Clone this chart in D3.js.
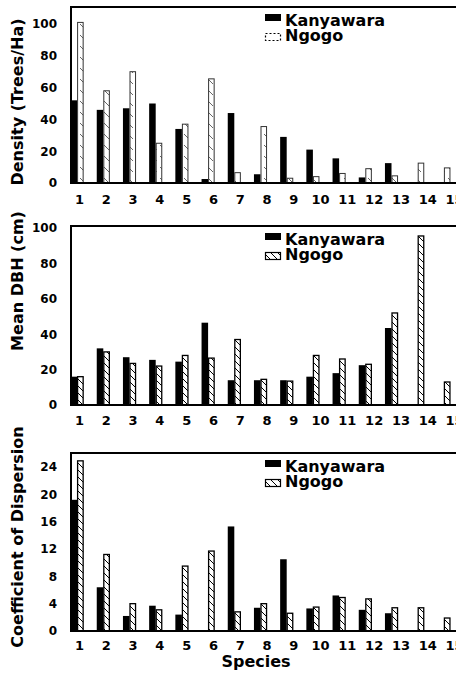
<!DOCTYPE html>
<html>
<head>
<meta charset="utf-8">
<script src="https://cdn.jsdelivr.net/npm/d3@7"></script>
<style>
  body { margin: 0; background: #fff; }
  svg text { font-family: "DejaVu Sans", sans-serif; font-weight: bold; fill: #000; }
</style>
</head>
<body>
<div id="viz"></div>
<script>
const species = ["1","2","3","4","5","6","7","8","9","10","11","12","13","14","15"];

const densityKanyawara = [52, 46, 47, 50, 34, 2.5, 44, 5.5, 29, 21, 15.5, 3.5, 12.5, 0, 0];
const densityNgogo     = [101, 58, 70, 25, 37, 65.5, 6.5, 35.5, 3, 4, 6, 9, 4.5, 12.5, 9.5];

const dbhKanyawara = [16, 32, 27, 25.5, 24.5, 46.5, 14, 14, 14, 16, 18, 22.5, 43.5, 0, 0];
const dbhNgogo     = [16, 30, 23.5, 22, 28, 26.5, 37, 14.5, 13.5, 28, 26, 23, 52, 95.5, 13];

const cdKanyawara = [19.2, 6.4, 2.2, 3.7, 2.4, 0, 15.3, 3.4, 10.5, 3.3, 5.2, 3.1, 2.6, 0, 0];
const cdNgogo     = [24.9, 11.2, 4, 3.1, 9.5, 11.7, 2.8, 4, 2.6, 3.5, 4.9, 4.7, 3.4, 3.4, 1.9];

const densityTicks = [0, 20, 40, 60, 80, 100];
const dbhTicks = [0, 20, 40, 60, 80, 100];
const cdTicks = [0, 4, 8, 12, 16, 20, 24];

const seriesNames = ["Kanyawara", "Ngogo"];

const width = 456;
const height = 674;
const axisX = 71;

// layout of the three stacked panels
const panels = [
  { title: "Density (Trees/Ha)", k: densityKanyawara, n: densityNgogo, ticks: densityTicks,
    top: 7, y0: 183, yTop: 24, titleY: 102, light: true, labelPad: 12 },
  { title: "Mean DBH (cm)", k: dbhKanyawara, n: dbhNgogo, ticks: dbhTicks,
    top: 226, y0: 405, yTop: 228, titleY: 281, light: false, labelPad: 11 },
  { title: "Coefficient of Dispersion", k: cdKanyawara, n: cdNgogo, ticks: cdTicks,
    top: 453, y0: 631, yTop: 467, titleY: 537, light: false, labelPad: 10 }
];

const svg = d3.select("#viz")
  .append("svg")
  .attr("width", width)
  .attr("height", height);

const defs = svg.append("defs");

const hatch = defs.append("pattern")
  .attr("id", "hatch")
  .attr("patternUnits", "userSpaceOnUse")
  .attr("width", 7)
  .attr("height", 7);
hatch.append("rect").attr("width", 7).attr("height", 7).attr("fill", "#fff");
hatch.append("path")
  .attr("d", "M-1,-1 L8,8 M-1,6 L1,8 M6,-1 L8,1")
  .attr("stroke", "#000")
  .attr("stroke-width", 1);

const hatchLight = defs.append("pattern")
  .attr("id", "hatchLight")
  .attr("patternUnits", "userSpaceOnUse")
  .attr("width", 8)
  .attr("height", 11);
hatchLight.append("rect").attr("width", 8).attr("height", 11).attr("fill", "#fff");
hatchLight.append("path")
  .attr("d", "M0,2 L5,7")
  .attr("stroke", "#555")
  .attr("stroke-width", 0.9);

// bar positions and label positions drift apart slightly in the original
const x = d3.scaleBand()
  .domain(species)
  .range([64, 457])
  .paddingInner(0.5)
  .paddingOuter(0.25);

const xSeries = d3.scaleBand()
  .domain(seriesNames)
  .range([0, x.bandwidth()]);

const xLabel = d3.scalePoint()
  .domain(species)
  .range([79, 454]);

panels.forEach(p => {
  const y = d3.scaleLinear()
    .domain([0, p.ticks[p.ticks.length - 1]])
    .range([p.y0, p.yTop]);

  const g = svg.append("g");

  const rows = species.map((s, i) => ({ s, k: p.k[i], n: p.n[i] }));

  // Kanyawara bars
  g.selectAll(".kan")
    .data(rows)
    .enter()
    .append("rect")
    .attr("x", d => x(d.s) + xSeries("Kanyawara"))
    .attr("y", d => y(d.k))
    .attr("width", xSeries.bandwidth())
    .attr("height", d => p.y0 - y(d.k))
    .attr("fill", "#000");

  // Ngogo bars
  g.selectAll(".ngo")
    .data(rows.filter(d => d.n > 0))
    .enter()
    .append("rect")
    .attr("x", d => x(d.s) + xSeries("Ngogo") + 0.5)
    .attr("y", d => y(d.n))
    .attr("width", xSeries.bandwidth() - 1)
    .attr("height", d => p.y0 - y(d.n))
    .attr("fill", p.light ? "url(#hatchLight)" : "url(#hatch)")
    .attr("stroke", p.light ? "#333" : "#000")
    .attr("stroke-width", p.light ? 1 : 1.3);

  // frame: left axis, top line, baseline
  g.append("line")
    .attr("x1", axisX).attr("x2", axisX)
    .attr("y1", p.top).attr("y2", p.y0 + 1)
    .attr("stroke", "#000").attr("stroke-width", 2);
  g.append("line")
    .attr("x1", axisX - 1).attr("x2", width)
    .attr("y1", p.top).attr("y2", p.top)
    .attr("stroke", "#000").attr("stroke-width", 2);
  g.append("line")
    .attr("x1", axisX - 1).attr("x2", width)
    .attr("y1", p.y0).attr("y2", p.y0)
    .attr("stroke", "#000").attr("stroke-width", 2);

  // y axis labels
  const yAxis = g.append("g")
    .attr("transform", `translate(${axisX},0)`)
    .call(d3.axisLeft(y).tickValues(p.ticks).tickSize(0).tickPadding(14));
  yAxis.select(".domain").remove();
  yAxis.selectAll("text")
    .style("font-family", "DejaVu Sans")
    .style("font-weight", "bold")
    .style("font-size", "12px");

  // x axis labels
  const xAxis = g.append("g")
    .attr("transform", `translate(0,${p.y0})`)
    .call(d3.axisBottom(xLabel).tickSize(0).tickPadding(p.labelPad));
  xAxis.select(".domain").remove();
  xAxis.selectAll("text")
    .style("font-family", "DejaVu Sans")
    .style("font-weight", "bold")
    .style("font-size", "13px");

  // y title
  g.append("text")
    .attr("transform", `translate(23,${p.titleY}) rotate(-90)`)
    .attr("text-anchor", "middle")
    .style("font-size", "16px")
    .text(p.title);

  // legend
  const lg = g.append("g").attr("transform", `translate(265,${p.top})`);
  lg.append("rect")
    .attr("x", 0).attr("y", 7)
    .attr("width", 16).attr("height", 7)
    .attr("fill", "#000");
  lg.append("rect")
    .attr("x", 0.5).attr("y", 26.5)
    .attr("width", 15).attr("height", 7)
    .attr("fill", p.light ? "#fff" : "url(#hatch)")
    .attr("stroke", "#000")
    .attr("stroke-width", 1.2)
    .attr("stroke-dasharray", p.light ? "2,2" : null);
  lg.selectAll(".lgtext")
    .data(seriesNames)
    .enter()
    .append("text")
    .attr("x", 20)
    .attr("y", (d, i) => 18.5 + i * 15.5)
    .style("font-size", "16px")
    .text(d => d);
});

svg.append("text")
  .attr("x", 256)
  .attr("y", 667)
  .attr("text-anchor", "middle")
  .style("font-size", "16px")
  .text("Species");
</script>
</body>
</html>
